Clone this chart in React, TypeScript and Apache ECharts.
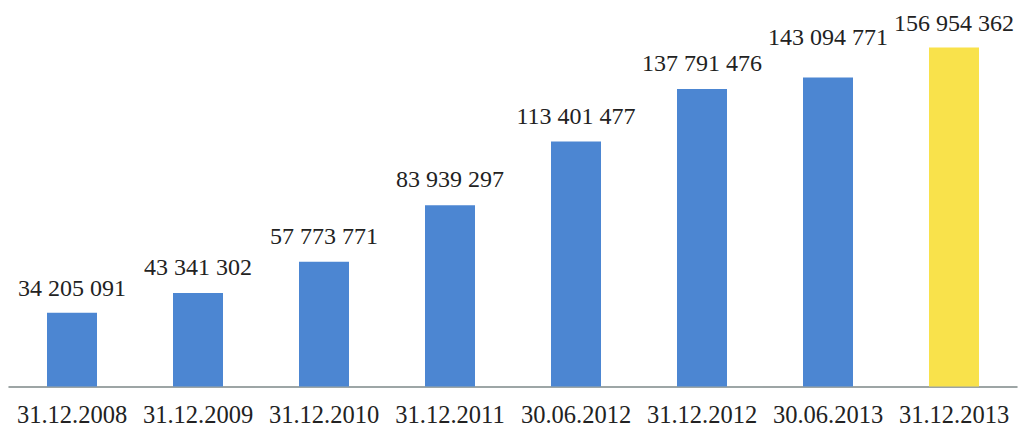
import React, { useEffect, useRef } from "react";
import * as echarts from "echarts";

const categories = [
  "31.12.2008",
  "31.12.2009",
  "31.12.2010",
  "31.12.2011",
  "30.06.2012",
  "31.12.2012",
  "30.06.2013",
  "31.12.2013",
];
const values = [34205091, 43341302, 57773771, 83939297, 113401477, 137791476, 143094771, 156954362];
const barColors = ["#4c86d2", "#4c86d2", "#4c86d2", "#4c86d2", "#4c86d2", "#4c86d2", "#4c86d2", "#f9e24b"];
const labelDistances = [13, 14, 14, 14, 14, 14, 29, 13];

const fmt = (v: number) => String(v).replace(/\B(?=(\d{3})+(?!\d))/g, " ");
const FONT = "'Liberation Serif', 'Times New Roman', serif";

export default function App() {
  const ref = useRef<HTMLDivElement>(null);
  useEffect(() => {
    if (!ref.current) return;
    const chart = echarts.init(ref.current, undefined, { renderer: "svg" });
    chart.setOption({
      animation: false,
      backgroundColor: "#ffffff",
      textStyle: { fontFamily: FONT },
      grid: { left: 9, right: 4, top: 41, bottom: 44.5, containLabel: false },
      xAxis: {
        type: "category",
        data: categories,
        boundaryGap: true,
        axisLine: { show: true, lineStyle: { color: "#7d8888", width: 1.5 } },
        axisTick: { show: false },
        axisLabel: {
          margin: 15,
          color: "#222222",
          fontFamily: FONT,
          fontSize: 24.5,
          interval: 0,
        },
      },
      yAxis: {
        type: "value",
        min: 0,
        max: 160000000,
        show: false,
        splitLine: { show: false },
      },
      series: [
        {
          type: "bar",
          barWidth: 50,
          data: values.map((v, i) => ({
            value: v,
            itemStyle: { color: barColors[i] },
            label: {
              show: true,
              position: "top",
              distance: labelDistances[i],
              color: "#222222",
              fontFamily: FONT,
              fontSize: 24,
              formatter: fmt(v),
            },
          })),
        },
      ],
    });
    return () => chart.dispose();
  }, []);
  return (
    <div
      ref={ref}
      style={{ position: "absolute", left: 0, top: 0, width: 1021, height: 431 }}
    />
  );
}
